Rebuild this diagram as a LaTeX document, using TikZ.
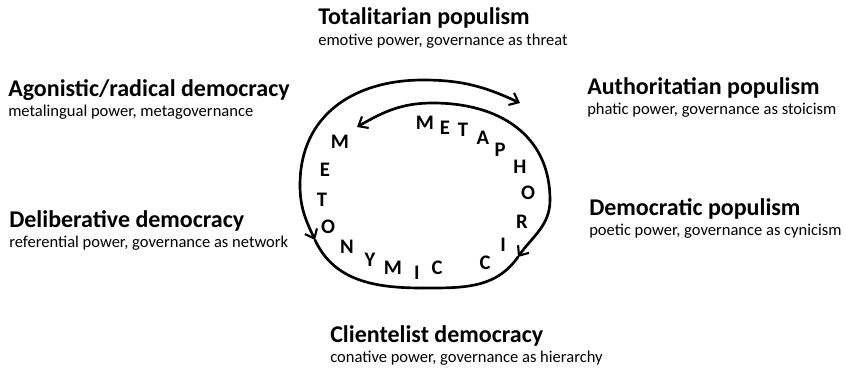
\documentclass[tikz,border=0pt]{standalone}
\usepackage{fontspec}
\setmainfont{Carlito}
\usetikzlibrary{arrows.meta, positioning}

\begin{document}
\begin{tikzpicture}[
  x=0.75pt, y=-0.75pt,
  head/.style={anchor=base west, inner sep=0pt, font=\fontsize{18}{21}\selectfont\bfseries},
  sub/.style={anchor=base west, inner sep=0pt, font=\fontsize{12.4}{14}\selectfont},
  letter/.style={inner sep=0pt, font=\fontsize{15.5}{18}\selectfont\bfseries},
  loop/.style={line width=2pt, line cap=round},
  tip/.style={-{Straight Barb[length=6pt, width=10pt, line width=1.6pt]}},
]
\useasboundingbox (0,0) rectangle (846,371);

% ===== Six regime labels =====
\node[head] (tot)    at (318,24)  {Totalitarian populism};
\node[sub]  (totsub) at (318,45)  {emotive power, governance as threat};

\node[head] (ago)    at (8,96)    {Agonistic/radical democracy};
\node[sub]  (agosub) at (8,116)   {metalingual power, metagovernance};

\node[head] (aut)    at (587,94)  {Authoritatian populism};
\node[sub]  (autsub) at (587,114) {phatic power, governance as stoicism};

\node[head] (del)    at (9,227)   {Deliberative democracy};
\node[sub]  (delsub) at (9,247)   {referential power, governance as network};

\node[head] (dem)    at (589,215) {Democratic populism};
\node[sub]  (demsub) at (589,235) {poetic power, governance as cynicism};

\node[head] (cli)    at (330,342) {Clientelist democracy};
\node[sub]  (clisub) at (330,362) {conative power, governance as hierarchy};

% ===== The loop =====
\coordinate (lw)   at (300,185);
\coordinate (otop) at (423,80);
\coordinate (otip) at (520,103);
\coordinate (ltip) at (315,240);
\coordinate (bot)  at (423,288);
\coordinate (rw)   at (550,200);
\coordinate (rtip) at (518,257);
\coordinate (itop) at (433,103);
\coordinate (itip) at (357,127);

% outer arc over the top, then down the left side
\draw[loop, tip] (lw) to[out=90, in=180, looseness=1.1] (otop) to[out=0, in=155] (otip);
\draw[loop, tip] (lw) to[out=-90, in=115] (ltip);
\draw[loop] (ltip) to[out=-65, in=180] (bot);
% right side down, then inner arc back over the top
\draw[loop, tip] (rw) to[out=-90, in=55] (rtip);
\draw[loop] (rtip) to[out=-125, in=0] (bot);
\draw[loop, tip] (rw) to[out=90, in=0, looseness=1.1] (itop) to[out=180, in=30] (itip);

% ===== Letters round the inside =====
\foreach \c/\x/\y [count=\i] in {M/425/123, E/445/128, T/463/130, A/483/138,
    P/500/150, H/520/167, O/528/193, R/522/222, I/503/245, C/485/263}{
  \node[letter] (mp\i) at (\x,\y) {\c};
}
\foreach \c/\x/\y [count=\i] in {M/340/142, E/325/170, T/322/200, O/328/227,
    N/347/247, Y/370/260, M/393/268, I/417/273, C/437/268}{
  \node[letter] (mt\i) at (\x,\y) {\c};
}

\end{tikzpicture}
\end{document}
